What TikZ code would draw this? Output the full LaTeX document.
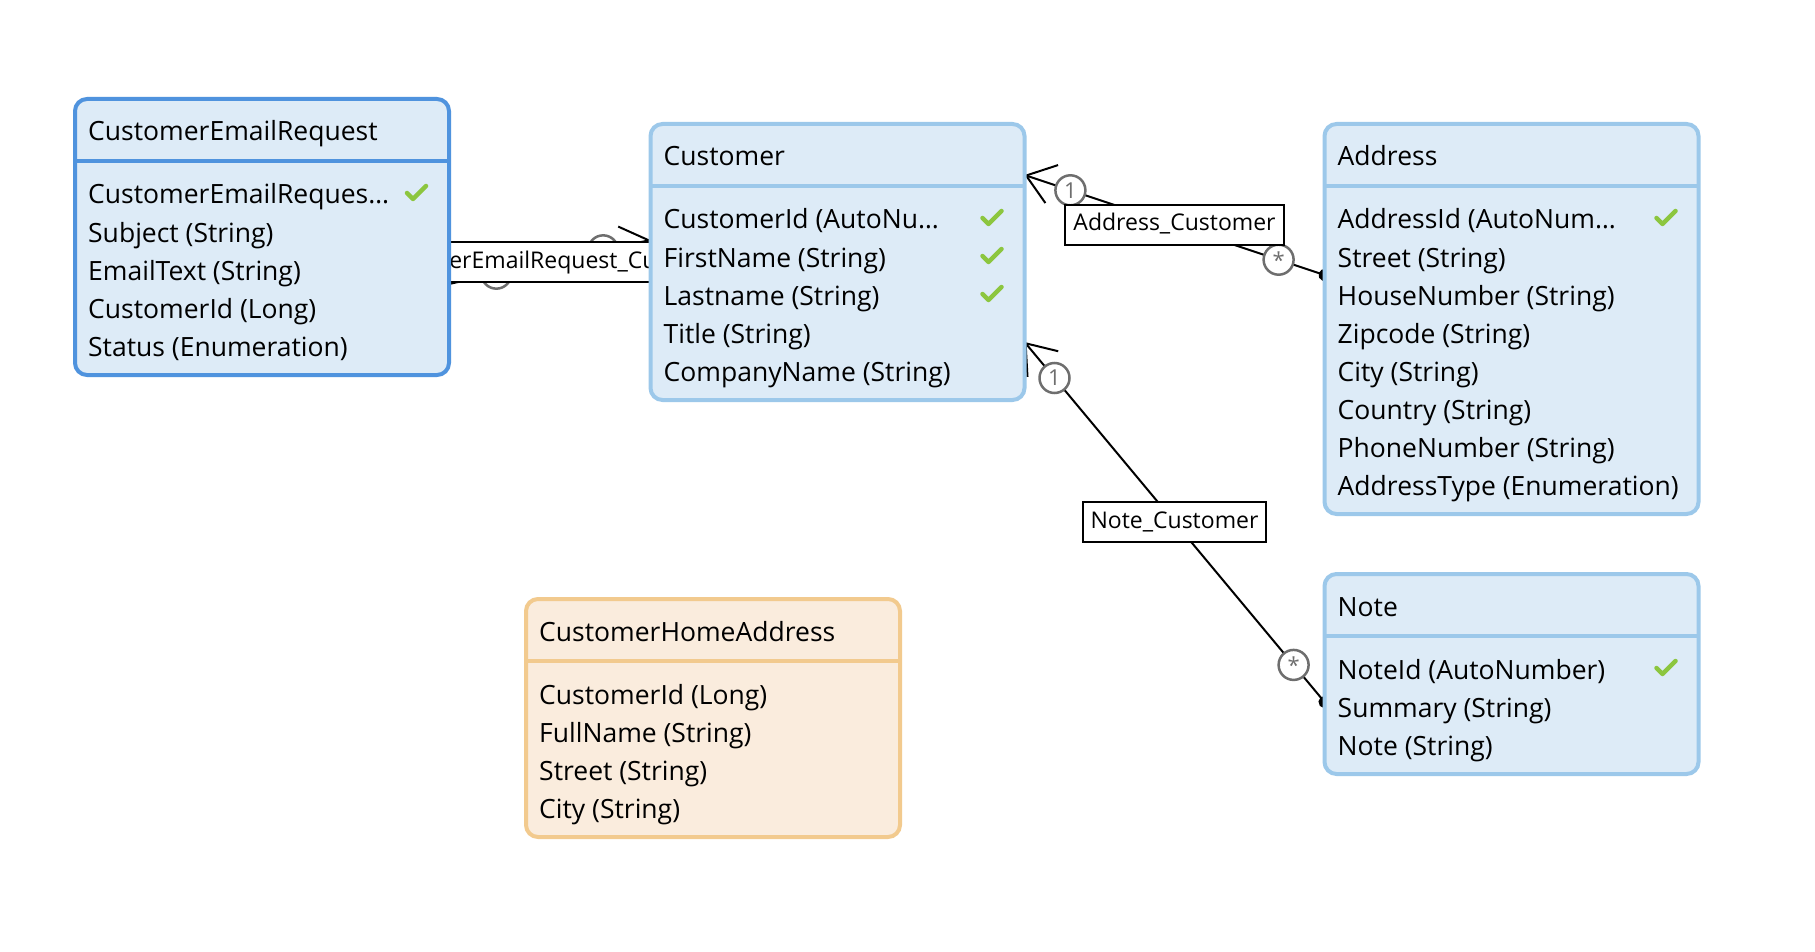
\documentclass[tikz,border=0pt]{standalone}
\usepackage{fontspec}
\setmainfont{Open Sans}
\usetikzlibrary{positioning,arrows.meta,backgrounds}
\usepackage{xcolor}
\definecolor{boxfill}{HTML}{DDEBF7}
\definecolor{boxline}{HTML}{9CC8EA}
\definecolor{selline}{HTML}{4F93DE}
\definecolor{viewfill}{HTML}{FAECDD}
\definecolor{viewline}{HTML}{F2CA8E}
\definecolor{keygreen}{HTML}{8CC63F}
\definecolor{multgray}{HTML}{6E6E6E}
\newcommand\entityfont{\fontsize{26.5}{32}\selectfont}
\newcommand\relfont{\fontsize{23}{28}\selectfont}

\begin{document}
\begin{tikzpicture}
[x=1pt, y=-1pt,
% entity boxes and their parts
entity/.style={rectangle, draw=boxline, fill=boxfill, line width=4pt, rounded corners=12pt, minimum width=374pt, inner sep=0pt, outer sep=0pt},
divider/.style={draw=boxline, line width=4pt},
title/.style={anchor=base west, inner sep=0pt, font=\entityfont},
field/.style={anchor=base west, inner sep=0pt, font=\entityfont},
keyicon/.style={draw=keygreen, line width=4.5pt, line cap=round, line join=round},
% associations
link/.style={line width=2pt, {Circle[length=12pt]}-{Straight Barb[length=27pt,width=40pt]}, shorten <=-6pt},
mult/.style={circle, draw=multgray, line width=2.5pt, fill=white, text=multgray, minimum size=30pt, inner sep=0pt, font=\fontsize{22}{22}\selectfont},
rel/.style={rectangle, draw=black, line width=2pt, fill=white, inner xsep=8pt, inner ysep=9pt, text height=17pt, text depth=5pt, font=\relfont}
]
\useasboundingbox (0,0) rectangle (1815,952);

% CustomerEmailRequest (selected)
\node[entity, draw=selline, minimum height=276pt] (cer) at (262,237) {};
\draw[divider, draw=selline] ([yshift=-62pt]cer.north west) -- ([yshift=-62pt]cer.north east);
\node[title] (cer-t) at ([xshift=13pt,yshift=-42pt]cer.north west) {CustomerEmailRequest};
\foreach \f [count=\i] in {CustomerEmailReques…, Subject (String), EmailText (String), CustomerId (Long), Status (Enumeration)}
  \node[field] (cer-f\i) at ([xshift=13pt,yshift={-105pt-(\i-1)*38pt}]cer.north west) {\f};
\draw[keyicon] ([xshift=-42pt,yshift=-94pt]cer.north east) -- ++(6,6) -- ++(13,-13);

% Customer
\node[entity, minimum height=276pt] (cust) at (837.5,262) {};
\draw[divider] ([yshift=-62pt]cust.north west) -- ([yshift=-62pt]cust.north east);
\node[title] (cust-t) at ([xshift=13pt,yshift=-42pt]cust.north west) {Customer};
\foreach \f [count=\i] in {CustomerId (AutoNu…, FirstName (String), Lastname (String), Title (String), CompanyName (String)}
  \node[field] (cust-f\i) at ([xshift=13pt,yshift={-105pt-(\i-1)*38pt}]cust.north west) {\f};
\foreach \i in {1,2,3}
  \draw[keyicon] ([xshift=-42pt,yshift={-94pt-(\i-1)*38pt}]cust.north east) -- ++(6,6) -- ++(13,-13);

% Address
\node[entity, minimum height=390pt] (addr) at (1511.5,319) {};
\draw[divider] ([yshift=-62pt]addr.north west) -- ([yshift=-62pt]addr.north east);
\node[title] (addr-t) at ([xshift=13pt,yshift=-42pt]addr.north west) {Address};
\foreach \f [count=\i] in {AddressId (AutoNum…, Street (String), HouseNumber (String), Zipcode (String), City (String), Country (String), PhoneNumber (String), AddressType (Enumeration)}
  \node[field] (addr-f\i) at ([xshift=13pt,yshift={-105pt-(\i-1)*38pt}]addr.north west) {\f};
\draw[keyicon] ([xshift=-42pt,yshift=-94pt]addr.north east) -- ++(6,6) -- ++(13,-13);

% Note
\node[entity, minimum height=200pt] (note) at (1511.5,674) {};
\draw[divider] ([yshift=-62pt]note.north west) -- ([yshift=-62pt]note.north east);
\node[title] (note-t) at ([xshift=13pt,yshift=-42pt]note.north west) {Note};
\foreach \f [count=\i] in {NoteId (AutoNumber), Summary (String), Note (String)}
  \node[field] (note-f\i) at ([xshift=13pt,yshift={-105pt-(\i-1)*38pt}]note.north west) {\f};
\draw[keyicon] ([xshift=-42pt,yshift=-94pt]note.north east) -- ++(6,6) -- ++(13,-13);

% CustomerHomeAddress (view)
\node[entity, draw=viewline, fill=viewfill, minimum height=238pt] (cha) at (713,718) {};
\draw[divider, draw=viewline] ([yshift=-62pt]cha.north west) -- ([yshift=-62pt]cha.north east);
\node[title] (cha-t) at ([xshift=13pt,yshift=-42pt]cha.north west) {CustomerHomeAddress};
\foreach \f [count=\i] in {CustomerId (Long), FullName (String), Street (String), City (String)}
  \node[field] (cha-f\i) at ([xshift=13pt,yshift={-105pt-(\i-1)*38pt}]cha.north west) {\f};

% associations go behind the boxes
\begin{scope}[on background layer]
\fill[white] (0,0) rectangle (1815,952);
\draw[link, -{Straight Barb[length=27pt,width=40pt]}] ([yshift=-185pt]cer.north east) -- node[pos=0.235, mult] (cc-m1) {} node[pos=0.765, mult] (cc-m2) {}
  node[rel] (cc-l) {CustomerEmailRequest\_Customer} ([yshift=-116pt]cust.north west);
\draw[link] ([yshift=-151pt]addr.north west) -- node[pos=0.153, mult] (ac-m1) {\raisebox{-0.32em}{*}} node[pos=0.847, mult] (ac-m2) {1}
  node[rel] (ac-l) {Address\_Customer} ([yshift=-51pt]cust.north east);
\draw[link] ([yshift=-128pt]note.north west) -- node[pos=0.103, mult] (nc-m1) {\raisebox{-0.32em}{*}} node[pos=0.9, mult] (nc-m2) {1}
  node[rel] (nc-l) {Note\_Customer} ([yshift=-218pt]cust.north east);
\end{scope}
\end{tikzpicture}
\end{document}
